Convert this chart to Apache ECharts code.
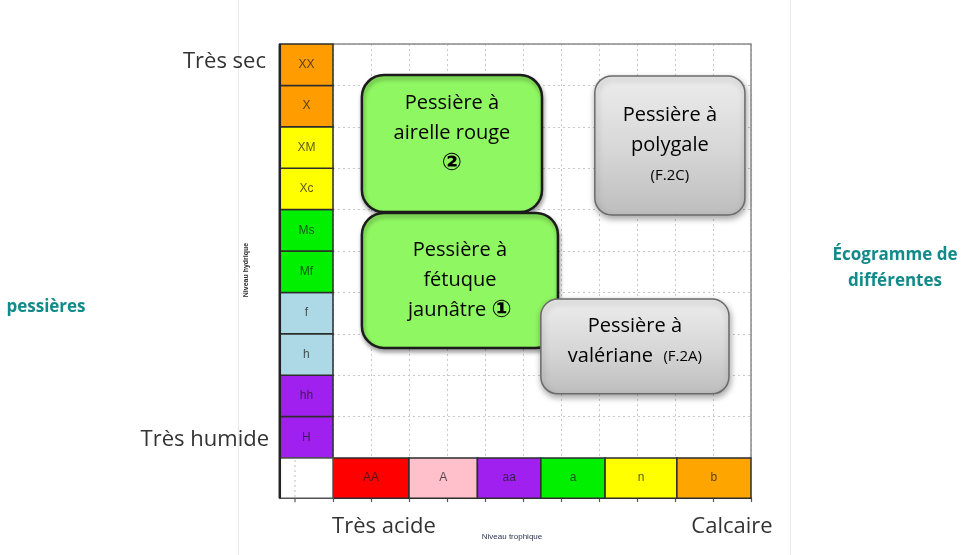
<!DOCTYPE html>
<html>
<head>
<meta charset="utf-8">
<script src="https://cdn.jsdelivr.net/npm/echarts@6/dist/echarts.min.js"></script>
<style>html,body{margin:0;padding:0;background:#fff}#c{width:972px;height:555px}</style>
</head>
<body>
<div id="c"></div>
<script>
// ---- data ----
const hydricLabels = ['H', 'hh', 'h', 'f', 'Mf', 'Ms', 'Xc', 'XM', 'X', 'XX'];
const hydricColors = ['#A020F0', '#A020F0', '#ADD8E6', '#ADD8E6', '#00F000', '#00F000', '#FFFF00', '#FFFF00', '#FF9C00', '#FF9C00'];
const trophicLabels = ['AA', 'A', 'aa', 'a', 'n', 'b'];
const trophicBounds = [0, 2, 3.8, 5.47, 7.16, 9.05, 11];
const trophicColors = ['#FF0000', '#FFC0CB', '#A020F0', '#00F000', '#FFFF00', '#FFA500'];
// zones: [xStart, xEnd, yStart, yEnd] in grid units
const zoneNames = ['airelle', 'fetuque', 'polygale', 'valeriane'];
const zoneX0 = [0.76, 0.76, 6.89, 5.47];
const zoneX1 = [5.50, 5.92, 10.84, 10.42];
const zoneY0 = [5.94, 2.66, 5.87, 1.55];
const zoneY1 = [9.25, 5.92, 9.23, 3.84];
const zoneTexts = [
  '{t|Pessière à}\n{t|airelle rouge}\n{c|②}',
  '{t|Pessière à}\n{t|fétuque}\n{t|jaunâtre }{c|①}',
  '{t|Pessière à}\n{t|polygale}\n{s|(F.2C)}',
  '{t|Pessière à}\n{t|valériane  }{s|(F.2A)}'
];
const zoneKinds = ['green', 'green', 'gray', 'gray'];

const chart = echarts.init(document.getElementById('c'), null, {renderer: 'canvas'});
const FONT = "'Open Sans', 'Noto Sans', sans-serif";

function rectFrom(api, x0, x1, y0, y1) {
  const a = api.coord([x0, y1]);
  const b = api.coord([x1, y0]);
  return {x: a[0], y: a[1], width: b[0] - a[0], height: b[1] - a[1]};
}

const cellLabelStyle = {fontSize: 12, fontFamily: "'Liberation Sans', Arial, sans-serif", fill: 'rgba(30,30,30,0.75)', align: 'center', verticalAlign: 'middle'};

const option = {
  animation: false,
  backgroundColor: '#fff',
  grid: {left: 333, top: 44, width: 418, height: 414, show: false},
  xAxis: {
    type: 'value', min: 0, max: 11, interval: 1,
    axisLine: {show: true, onZero: false, lineStyle: {color: '#555', width: 1.5}},
    axisTick: {show: true, length: 4, lineStyle: {color: '#555', width: 1.2}},
    offset: 40,
    axisLabel: {show: false},
    splitLine: {show: true, lineStyle: {type: [2, 3], color: '#c8c8c8', width: 1}}
  },
  yAxis: {
    type: 'value', min: 0, max: 10, interval: 1,
    axisLine: {show: false}, axisTick: {show: false}, axisLabel: {show: false},
    splitLine: {show: true, lineStyle: {type: [2, 3], color: '#c8c8c8', width: 1}}
  },
  graphic: [
    {type: 'line', shape: {x1: 238.5, y1: 0, x2: 238.5, y2: 555}, style: {stroke: '#ececec', lineWidth: 1}, silent: true},
    {type: 'line', shape: {x1: 790.5, y1: 0, x2: 790.5, y2: 555}, style: {stroke: '#ececec', lineWidth: 1}, silent: true},
    {type: 'text', x: 266, y: 62, style: {text: 'Très sec', font: "22px 'Open Sans'", fill: '#333', align: 'right', verticalAlign: 'middle'}},
    {type: 'text', x: 269, y: 440, style: {text: 'Très humide', font: "22px 'Open Sans'", fill: '#333', align: 'right', verticalAlign: 'middle'}},
    {type: 'text', x: 384, y: 527, style: {text: 'Très acide', font: "22px 'Open Sans'", fill: '#333', align: 'center', verticalAlign: 'middle'}},
    {type: 'text', x: 732, y: 527, style: {text: 'Calcaire', font: "22px 'Open Sans'", fill: '#333', align: 'center', verticalAlign: 'middle'}},
    {type: 'text', x: 512, y: 537, style: {text: 'Niveau trophique', font: "8px 'Liberation Sans Narrow', 'Liberation Sans'", fill: '#2b3550', align: 'center', verticalAlign: 'middle'}},
    {type: 'text', x: 246, y: 270, rotation: Math.PI / 2, style: {text: 'Niveau hydrique', font: "bold 7px 'Liberation Sans Narrow', 'Liberation Sans'", fill: '#2b2b2b', align: 'center', verticalAlign: 'middle'}},
    {type: 'text', x: 895, y: 255, style: {text: 'Écogramme de', font: "bold 17px 'Open Sans'", fill: '#138a8a', align: 'center', verticalAlign: 'middle'}},
    {type: 'text', x: 895, y: 281, style: {text: 'différentes', font: "bold 17px 'Open Sans'", fill: '#138a8a', align: 'center', verticalAlign: 'middle'}},
    {type: 'text', x: 46, y: 307, style: {text: 'pessières', font: "bold 17px 'Open Sans'", fill: '#138a8a', align: 'center', verticalAlign: 'middle'}}
  ],
  series: [
    {
      // plot frame
      type: 'custom', name: 'cadre', clip: false, z: 3,
      data: [0],
      renderItem: function (params, api) {
        const tl = api.coord([0, 10]);
        const tr = api.coord([11, 10]);
        const br = api.coord([11, 0]);
        return {type: 'polyline', shape: {points: [[tl[0], tl[1]], [tr[0], tr[1]], [br[0], br[1]]]},
          style: {stroke: '#8a8a8a', lineWidth: 1.5, fill: null}};
      }
    },
    {
      // hydric column
      type: 'custom', name: 'hydrique', clip: false, z: 3,
      data: hydricLabels.map((l, i) => i),
      renderItem: function (params, api) {
        const i = params.dataIndex;
        const r = rectFrom(api, -1.4, 0, i, i + 1);
        return {type: 'group', children: [
          {type: 'rect', shape: r, style: {fill: hydricColors[i], stroke: '#2d2d2d', lineWidth: 1.5}},
          {type: 'text', style: Object.assign({text: hydricLabels[i], x: r.x + r.width / 2, y: r.y + r.height / 2}, cellLabelStyle)}
        ]};
      }
    },
    {
      // trophic row
      type: 'custom', name: 'trophique', clip: false, z: 3,
      data: trophicLabels.map((l, i) => i),
      renderItem: function (params, api) {
        const i = params.dataIndex;
        const r = rectFrom(api, trophicBounds[i], trophicBounds[i + 1], -0.97, 0);
        return {type: 'group', children: [
          {type: 'rect', shape: r, style: {fill: trophicColors[i], stroke: '#2d2d2d', lineWidth: 1.5}},
          {type: 'text', style: Object.assign({text: trophicLabels[i], x: r.x + r.width / 2, y: r.y + r.height / 2}, cellLabelStyle)}
        ]};
      }
    },
    {
      // corner white cell
      type: 'custom', name: 'coin', clip: false, z: 3,
      data: [0],
      renderItem: function (params, api) {
        const r = rectFrom(api, -1.4, 0, -0.97, 0);
        const m = api.coord([-1, 0]);
        const b = api.coord([-1, -0.97]);
        return {type: 'group', children: [
          {type: 'rect', shape: r, style: {fill: '#fff', stroke: '#555', lineWidth: 1.5}},
          {type: 'line', shape: {x1: m[0], y1: m[1] + 2, x2: b[0], y2: b[1]}, style: {stroke: '#bbb', lineWidth: 1, lineDash: [2, 3]}},
          {type: 'line', shape: {x1: b[0], y1: b[1], x2: b[0], y2: b[1] + 4}, style: {stroke: '#555', lineWidth: 1.2}},
          {type: 'line', shape: {x1: r.x, y1: api.coord([0, 10])[1], x2: r.x, y2: r.y + r.height}, style: {stroke: '#222', lineWidth: 2.5}}
        ]};
      }
    },
    {
      // zones
      type: 'custom', name: 'zones', clip: false, z: 5,
      data: zoneNames.map((n, i) => i),
      renderItem: function (params, api) {
        const i = params.dataIndex;
        const r = rectFrom(api, zoneX0[i], zoneX1[i], zoneY0[i], zoneY1[i]);
        const green = zoneKinds[i] === 'green';
        const fill = green ? '#8FF761' : new echarts.graphic.LinearGradient(0, 0, 0, 1, [
          {offset: 0, color: '#ededed'}, {offset: 0.55, color: '#d6d6d6'}, {offset: 1, color: '#bdbdbd'}]);
        const dy = i === 0 ? -10 : (i === 3 ? -5 : 0);
        return {type: 'group', children: [
          {type: 'rect', shape: Object.assign({r: green ? 22 : 17}, r),
            style: {fill: fill, stroke: green ? '#1b1b1b' : '#6b6b6b', lineWidth: green ? 2.5 : 1.5,
              shadowBlur: green ? 4 : 6, shadowColor: 'rgba(0,0,0,0.35)', shadowOffsetX: 1, shadowOffsetY: 3}},
          {type: 'text', z2: 10, style: {
            text: zoneTexts[i], x: r.x + r.width / 2, y: r.y + r.height / 2 + dy,
            align: 'center', verticalAlign: 'middle',
            rich: {
              t: {fontSize: 20, fontFamily: FONT, color: '#262626', lineHeight: 30},
              s: {fontSize: 15, fontFamily: FONT, color: '#262626', lineHeight: 30},
              c: {fontSize: 24, fontFamily: "'DejaVu Sans', sans-serif", fontWeight: 'bold', color: '#111', lineHeight: 30}
            }
          }}
        ]};
      }
    }
  ]
};
chart.setOption(option);
</script>
</body>
</html>
